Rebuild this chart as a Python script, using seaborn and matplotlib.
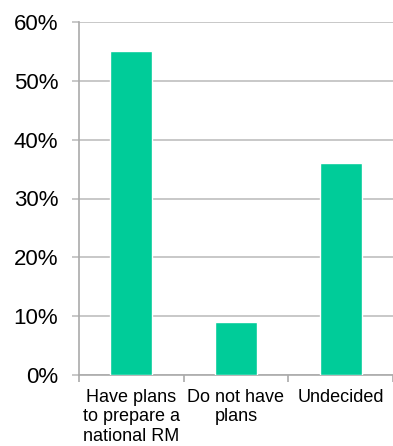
import matplotlib
matplotlib.use("Agg")
import matplotlib.pyplot as plt
import seaborn as sns
import pandas as pd
from matplotlib.ticker import FuncFormatter, FixedLocator

categories = ["Have plans\nto prepare a\nnational RM", "Do not have\nplans", "Undecided"]
values = [55, 9, 36]
y_ticks = [0, 10, 20, 30, 40, 50, 60]

sns.set_style("white")
plt.rcParams["font.family"] = ["Liberation Sans", "DejaVu Sans"]

df = pd.DataFrame({"category": categories, "value": values})

fig = plt.figure(figsize=(3.93, 4.46), dpi=100)
ax = fig.add_axes([79 / 393, 1 - 375 / 446, 314 / 393, 353 / 446])

sns.barplot(data=df, x="category", y="value", color="#00CC99", width=0.4,
            saturation=1, ax=ax, zorder=3)

grid_c = "#BFBFBF"
ax.set_ylim(0, 60)
ax.set_xlim(-0.5, 2.5)
ax.set_yticks(y_ticks)
ax.yaxis.set_major_formatter(FuncFormatter(lambda v, p: f"{v:.0f}%"))
ax.grid(axis="y", color=grid_c, linewidth=1.2, zorder=0)
ax.set_axisbelow(True)

for s in ["top", "right"]:
    ax.spines[s].set_visible(False)
for s in ["left", "bottom"]:
    ax.spines[s].set_color("#AAAAAA")
    ax.spines[s].set_linewidth(1.2)

ax.tick_params(axis="y", length=5, width=1.2, color=grid_c, labelsize=16,
               pad=10, labelcolor="black", left=True)
ax.tick_params(axis="x", which="major", length=0, labelsize=13, pad=10,
               labelcolor="black")
for lbl in ax.get_xticklabels():
    lbl.set_linespacing(1.2)
ax.xaxis.set_minor_locator(FixedLocator([-0.5, 0.5, 1.5, 2.5]))
ax.tick_params(axis="x", which="minor", length=5, width=1.2, color="#AAAAAA",
               bottom=True)
ax.set_xlabel("")
ax.set_ylabel("")

fig.savefig("out.png", dpi=100)
